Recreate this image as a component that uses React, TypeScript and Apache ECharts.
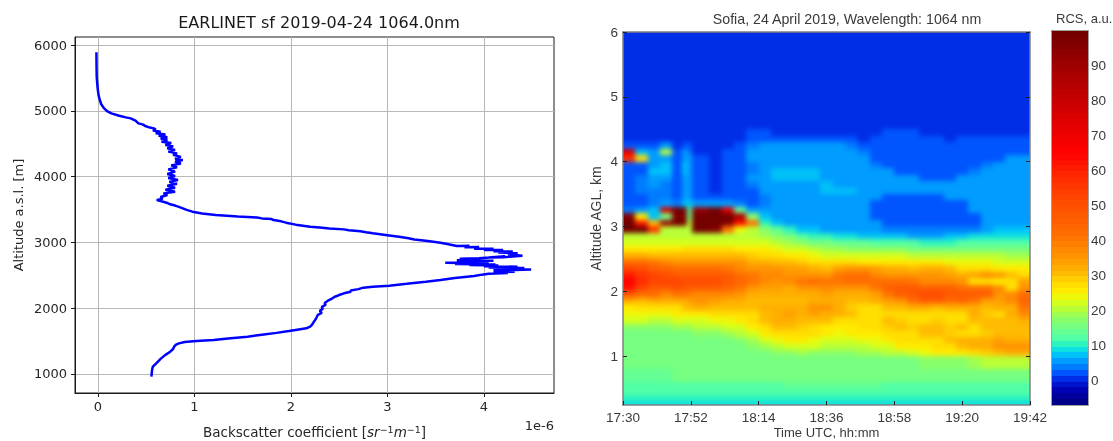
import React, { useEffect, useRef } from "react";
import * as echarts from "echarts";

// Left panel: backscatter profile (values in units of 1e-6 sr^-1 m^-1)
const altitudes = [5890,5700,5520,5400,5316,5230,5164,5100,5037,4990,4961,4926,4900,4885,4850,4809,4790,4769,4745,4733,4715,4700,4683,4660,4640,4620,4600,4580,4560,4530,4510,4480,4460,4430,4404,4380,4353,4330,4300,4270,4252,4225,4200,4170,4140,4110,4075,4040,4010,3980,3948,3920,3890,3860,3830,3800,3770,3745,3720,3690,3660,3644,3625,3600,3584,3560,3540,3518,3495,3467,3440,3416,3395,3380,3365,3355,3340,3320,3300,3270,3239,3225,3210,3198,3185,3170,3155,3138,3110,3085,3062,3045,3020,2995,2975,2945,2950,2925,2930,2905,2905,2885,2885,2865,2860,2845,2835,2820,2798,2775,2770,2790,2760,2750,2740,2730,2720,2712,2700,2692,2685,2672,2665,2655,2648,2638,2630,2620,2610,2600,2590,2575,2565,2555,2545,2535,2525,2510,2490,2460,2430,2403,2370,2342,2325,2312,2290,2270,2250,2226,2200,2170,2140,2110,2080,2050,2020,1990,1960,1930,1900,1870,1840,1795,1750,1720,1694,1670,1653,1625,1600,1567,1540,1517,1500,1485,1465,1445,1415,1380,1339,1290,1230,1170,1111,1085,1040,959];
const backscatter = [-0.015,-0.014,-0.012,-0.006,0,0.008,0.02,0.035,0.065,0.1,0.14,0.22,0.29,0.34,0.39,0.42,0.47,0.49,0.54,0.58,0.6,0.57,0.65,0.6,0.7,0.63,0.72,0.65,0.72,0.66,0.76,0.7,0.78,0.72,0.8,0.73,0.82,0.78,0.86,0.8,0.88,0.8,0.86,0.76,0.82,0.73,0.8,0.72,0.8,0.73,0.83,0.74,0.82,0.72,0.8,0.7,0.8,0.68,0.72,0.65,0.67,0.61,0.66,0.72,0.74,0.8,0.84,0.88,0.92,0.98,1.08,1.22,1.45,1.65,1.7,1.8,1.82,1.9,1.95,2.05,2.2,2.3,2.4,2.55,2.6,2.72,2.78,2.85,3.0,3.12,3.22,3.28,3.42,3.55,3.62,3.72,3.85,3.8,3.95,3.9,4.1,4.0,4.2,4.1,4.3,4.15,4.35,4.25,4.4,4.2,4.05,4.22,3.95,3.75,3.98,3.72,4.1,3.72,4.05,3.6,4.05,3.7,4.12,3.85,4.15,4.0,4.35,4.05,4.42,4.1,4.49,4.2,4.1,4.32,4.1,4.25,4.05,3.98,3.9,3.7,3.55,3.4,3.2,3.02,2.85,2.75,2.7,2.62,2.62,2.55,2.5,2.45,2.42,2.38,2.35,2.36,2.32,2.33,2.3,2.32,2.28,2.27,2.26,2.24,2.22,2.2,2.16,2.05,1.98,1.85,1.72,1.55,1.35,1.2,1.02,0.9,0.84,0.81,0.79,0.78,0.75,0.7,0.65,0.61,0.57,0.565,0.56,0.555];
const profileXTicks = [0, 1, 2, 3, 4];
const profileYTicks = [1000, 2000, 3000, 4000, 5000, 6000];

// Right panel: RCS time-height section
const timeLabels = ["17:30", "17:52", "18:14", "18:36", "18:58", "19:20", "19:42"];
const timeTicksMin = [0, 22, 44, 66, 88, 110, 132];
const altTicksKm = [1, 2, 3, 4, 5, 6];
const rcsTicks = [0, 10, 20, 30, 40, 50, 60, 70, 80, 90];
const columnEdgesMin = [0,4,8,12,16,19,20.8,22.4,28,32,36,40,44,48,52,56,60,64,68,72,76,80,84,88,92,96,100,104,108,112,116,120,124,128,132];
const rowEdgesKm = [6,5.6,5.2,4.8,4.6,4.5,4.4,4.3,4.2,4.1,4,3.9,3.8,3.7,3.6,3.5,3.4,3.3,3.2,3.1,3,2.9,2.8,2.7,2.6,2.5,2.4,2.3,2.2,2.1,2,1.9,1.8,1.7,1.6,1.5,1.4,1.3,1.2,1.1,1,0.8,0.6,0.5,0.4,0.3,0.244];
const rcsRows = [
[0,0,0,0,1,0,0,0,0,0,1,0,0,0,0,0,0,0,1,0,0,0,0,0,0,1,0,0,0,0,0,0,0,0],
[0,1,0,0,0,0,0,0,0,1,0,0,0,0,0,1,0,0,0,0,0,0,1,0,0,0,0,0,0,1,0,0,0,0],
[0,0,0,0,0,0,0,0,0,0,0,0,0,0,0,0,0,0,0,0,0,0,0,0,0,0,0,0,0,0,0,0,0,0],
[0,0,0,1,0,0,0,0,0,0,0,1,0,0,0,0,0,1,0,0,0,0,0,0,0,1,0,0,0,0,0,1,0,0],
[0,0,0,0,0,0,0,0,0,0,1,1,1,0,0,0,0,0,0,0,0,0,1,1,0,0,0,0,0,0,0,0,0,0],
[0,0,0,0,0,0,0,0,0,0,1,2,2,1,1,0,0,0,0,0,0,1,2,2,2,1,0,0,0,1,1,1,1,1],
[1,1,1,1,1,1,1,1,0,0,1,3,3,3,3,3,3,2,2,2,1,2,3,3,3,2,2,1,2,2,2,2,2,2],
[3,2,3,6,1,3,3,1,0,1,2,4,5,5,5,5,5,5,5,4,3,3,3,3,3,3,3,3,3,3,3,3,3,3],
[72,8,5,20,2,5,4,1,0,2,3,5,5,5,5,5,5,5,5,5,4,3,3,3,2,3,2,3,3,3,3,3,3,3],
[58,28,5,5,2,6,5,2,1,2,3,5,5,5,5,5,5,5,5,5,5,3,3,3,3,2,3,3,3,2,2,3,5,5],
[3,3,6,7,2,7,6,2,1,2,3,4,5,5,6,6,5,5,5,5,5,4,3,3,3,3,3,3,3,3,4,5,5,5],
[2,3,7,8,2,7,6,2,1,2,3,4,5,7,8,8,7,5,5,5,5,5,5,3,3,3,3,3,3,4,5,5,5,5],
[2,4,6,6,2,6,6,2,1,2,3,5,6,7,7,7,8,6,5,5,5,5,5,5,5,3,3,3,5,5,5,5,5,5],
[2,4,5,4,2,6,6,2,1,2,3,4,5,5,5,5,6,7,6,5,5,5,5,5,5,5,5,5,5,5,5,5,5,5],
[2,4,4,4,2,6,6,2,1,2,3,3,5,5,5,5,5,7,7,7,5,5,5,5,5,5,5,5,5,5,5,5,5,5],
[2,3,4,4,2,6,6,2,2,3,3,3,4,5,5,5,5,5,5,5,5,5,3,3,3,3,3,5,5,5,5,5,5,5],
[2,3,4,5,4,7,7,5,6,6,4,3,4,5,5,5,5,5,5,5,5,3,3,3,3,3,3,3,3,5,5,5,5,5],
[4,6,7,75,100,100,12,92,100,72,14,6,5,5,5,5,5,5,5,5,5,3,3,3,3,3,3,3,3,5,5,5,5,5],
[95,25,8,15,95,100,16,100,100,100,85,18,7,5,5,5,5,5,5,5,5,3,3,3,3,3,3,3,3,3,5,5,5,5],
[100,60,30,90,100,100,20,100,100,95,62,42,10,7,5,5,5,5,5,5,5,5,3,3,3,3,3,3,3,3,5,5,5,5],
[100,100,55,20,20,20,20,100,95,40,24,20,18,14,10,8,7,6,6,6,5,5,4,4,4,4,4,4,4,4,6,7,7,7],
[21,21,21,21,21,21,21,21,21,21,21,20,19,17,15,13,11,10,9,9,8,8,7,7,6,6,6,7,8,9,9,9,9,9],
[23,23,23,23,23,23,23,23,23,23,23,23,22,21,19,18,16,15,14,14,14,13,13,12,12,11,11,11,12,12,13,13,13,13],
[26,26,26,26,26,27,27,27,27,27,26,25,25,24,23,22,20,19,19,18,18,18,17,17,16,16,16,16,16,16,16,16,15,15],
[32,32,30,30,30,30,30,30,30,30,30,29,28,27,26,25,24,23,23,23,23,22,22,22,21,21,21,20,20,20,20,20,19,19],
[42,42,40,38,36,36,36,36,36,36,35,33,32,31,30,29,27,27,27,27,26,26,26,26,25,25,25,24,24,24,24,23,23,22],
[52,50,46,44,42,42,42,42,42,40,38,36,35,35,34,34,32,31,34,36,36,34,33,32,31,32,32,30,28,28,27,26,26,25],
[60,56,52,50,48,48,48,48,48,46,43,40,38,37,36,36,36,36,40,43,42,38,36,36,36,35,35,34,33,34,38,36,30,28],
[66,58,52,52,52,50,50,50,50,48,44,40,38,36,38,40,42,40,40,42,42,42,43,42,40,38,37,37,36,28,27,26,28,34],
[62,52,48,48,50,48,47,46,46,44,40,36,34,34,33,36,36,38,36,35,36,40,46,48,47,46,45,45,42,42,42,38,27,36],
[48,42,42,38,40,40,39,38,38,38,35,33,32,32,32,33,33,34,33,33,33,34,40,46,48,50,50,48,48,46,46,36,38,42],
[32,30,32,32,32,33,34,36,34,32,32,31,31,31,31,31,32,32,32,30,31,32,34,36,42,46,45,42,44,40,34,34,38,44],
[26,27,27,28,27,30,31,33,30,30,30,30,32,33,33,33,35,35,33,29,28,28,30,30,32,32,30,32,32,32,30,32,32,40],
[24,24,24,24,25,25,25,26,27,27,28,28,31,33,34,33,34,32,32,30,28,27,28,28,28,28,28,27,28,32,29,28,32,38],
[22,22,21,21,22,22,22,23,24,24,26,27,30,32,32,31,30,30,28,28,27,28,30,29,28,28,29,28,28,31,30,30,30,32],
[18,18,18,18,19,19,19,20,21,22,23,25,28,30,30,29,27,26,26,26,27,28,29,31,29,30,31,29,30,28,30,30,30,30],
[16,16,16,16,16,16,16,17,18,19,20,22,25,27,28,27,27,25,24,25,26,26,27,28,28,31,31,29,28,28,29,30,31,31],
[15,15,15,15,15,15,15,15,15,16,17,19,22,24,25,25,24,23,22,23,24,24,25,27,27,27,28,30,32,33,33,34,33,32],
[15,15,15,15,15,15,15,15,15,15,16,17,19,21,23,23,22,20,20,21,21,22,23,25,26,26,27,28,31,32,33,35,36,36],
[15,15,15,15,15,15,15,15,15,15,15,16,16,17,18,19,18,18,17,18,19,19,20,21,22,24,25,26,26,28,29,31,32,33],
[15,15,15,15,15,15,15,15,15,15,15,15,15,15,15,15,15,15,15,15,15,15,16,16,16,17,17,18,18,19,20,21,21,21],
[14,14,14,14,15,15,15,15,15,15,15,15,15,15,15,15,15,15,15,15,15,15,15,15,15,15,15,15,15,15,15,15,15,15],
[13,13,13,13,13,13,13,13,13,13,13,13,13,13,14,14,14,14,14,14,14,14,13,13,13,13,13,13,13,13,13,13,13,13],
[12,12,12,12,12,12,12,12,12,12,12,12,12,12,12,12,12,12,12,12,12,12,12,12,12,12,12,12,12,12,12,12,12,12],
[10,10,10,10,11,11,11,11,11,11,11,11,11,11,11,11,11,11,11,11,11,11,11,11,11,11,11,11,11,11,11,11,11,11],
[9,9,9,9,9,9,9,9,9,9,9,9,9,9,9,9,9,9,9,9,9,9,9,9,9,9,9,9,9,9,9,9,9,9],
];

// Colour scale: RCS value -> colour
const scaleValues = [-7,-3,0,2,4,6,8,10,12,15,18,20,23,25,28,30,35,40,45,50,60,65,70,80,90,100];
const scaleColors = ["#000080","#0000b0","#0020e0","#0050ff","#0080ff","#00a4ff","#00d4f4","#20f0c8","#50ffa8","#70ff88","#90ff60","#b0ff40","#e0ff10","#fff000","#ffd800","#ffc000","#ff9800","#ff7800","#ff6000","#ff5000","#ff2000","#ff0000","#f00000","#c80000","#a00000","#700000"];
const RCS_MIN = -7;
const RCS_MAX = 100;
const BANDS = 64;
const ALT_MIN = 0.244;
const ALT_MAX = 6;
const TIME_MAX = 132;
const BLEED = 10; // the blurred section is drawn past its frame so that its edges stay saturated

const hexToRgb = (h: string) => [1, 3, 5].map((i) => parseInt(h.slice(i, i + 2), 16));
function colorFor(v: number): string {
  const w = (RCS_MAX - RCS_MIN) / BANDS;
  const q = Math.min(BANDS - 1, Math.max(0, Math.floor((v - RCS_MIN) / w)));
  const c = RCS_MIN + (q + 0.5) * w;
  let i = 0;
  while (i < scaleValues.length - 2 && c > scaleValues[i + 1]) i++;
  const t = (c - scaleValues[i]) / (scaleValues[i + 1] - scaleValues[i]);
  const a = hexToRgb(scaleColors[i]);
  const b = hexToRgb(scaleColors[i + 1]);
  const m = a.map((x, k) => Math.round(x + (b[k] - x) * t));
  return `rgb(${m[0]},${m[1]},${m[2]})`;
}

const rectItem = (_p: any, api: any) => {
  const p0 = api.coord([api.value(0), api.value(2)]);
  const p1 = api.coord([api.value(1), api.value(3)]);
  const x = Math.round(p0[0]);
  const y = Math.round(p1[1]);
  return {
    type: "rect",
    shape: { x, y, width: Math.round(p1[0]) - x, height: Math.round(p0[1]) - y },
    style: { fill: colorFor(api.value(4)) },
  };
};

const heatItem = (_p: any, api: any) => {
  const t0 = api.value(0), t1 = api.value(1), h0 = api.value(2), h1 = api.value(3);
  const p0 = api.coord([t0, h0]);
  const p1 = api.coord([t1, h1]);
  const x0 = Math.round(p0[0]) - (t0 === 0 ? BLEED : 0);
  const x1 = Math.round(p1[0]) + (t1 === TIME_MAX ? BLEED : 0);
  const y0 = Math.round(p1[1]) - (h1 === ALT_MAX ? BLEED : 0);
  const y1 = Math.round(p0[1]) + (h0 === ALT_MIN ? BLEED : 0);
  return {
    type: "rect",
    shape: { x: x0, y: y0, width: x1 - x0, height: y1 - y0 },
    style: { fill: colorFor(api.value(4)) },
  };
};

const heatCells: number[][] = [];
rcsRows.forEach((row, r) =>
  row.forEach((v, c) => {
    heatCells.push([columnEdgesMin[c], columnEdgesMin[c + 1], rowEdgesKm[r + 1], rowEdgesKm[r], v]);
  })
);
const barCells: number[][] = Array.from({ length: BANDS }, (_, i) => {
  const w = (RCS_MAX - RCS_MIN) / BANDS;
  const lo = RCS_MIN + i * w;
  return [0, 1, lo, lo + w, lo + w / 2];
});

const DJ = "DejaVu Sans";
const LS = "Liberation Sans";
const MT = "#3a3a3a";
const EDGE = "#808080";

const hiddenLabels = { show: false };

export default function App() {
  const ref = useRef<HTMLDivElement>(null);
  const heatRef = useRef<HTMLDivElement>(null);
  useEffect(() => {
    document.body.style.margin = "0";
    const heat = echarts.init(heatRef.current!, null, { renderer: "svg" });
    heat.setOption({
      animation: false,
      grid: { left: BLEED, top: BLEED, width: 407, height: 373, outerBoundsMode: "none" },
      xAxis: { type: "value", min: 0, max: TIME_MAX, show: false },
      yAxis: { type: "value", min: ALT_MIN, max: ALT_MAX, show: false },
      series: [{
        type: "custom", renderItem: heatItem, silent: true, clip: false,
        encode: { x: [0, 1], y: [2, 3] }, data: heatCells,
      }],
    });
    const chart = echarts.init(ref.current!, null, { renderer: "svg" });
    chart.setOption({
      animation: false,
      backgroundColor: "transparent",
      title: [
        { text: "EARLINET sf 2019-04-24 1064.0nm", left: 314, top: 9, textAlign: "center", textStyle: { fontFamily: DJ, fontSize: 16, fontWeight: "normal", color: "#1a1a1a" } },
        { text: "Sofia, 24 April 2019, Wavelength: 1064 nm", left: 842, top: 7, textAlign: "center", textStyle: { fontFamily: LS, fontSize: 14.2, fontWeight: "normal", color: MT } },
        { text: "RCS, a.u.", left: 1051, top: 7, textStyle: { fontFamily: LS, fontSize: 13, fontWeight: "normal", color: MT } },
      ],
      grid: [
        { left: 75, top: 37, width: 479, height: 356, outerBoundsMode: "none", show: true, borderColor: "#1a1a1a", borderWidth: 1, backgroundColor: "#fff" },
        { left: 623, top: 32, width: 407, height: 373, outerBoundsMode: "none" },
        { left: 1052, top: 31, width: 36, height: 374, outerBoundsMode: "none" },
      ],
      xAxis: [
        {
          gridIndex: 0, type: "value", min: -0.237, max: 4.727,
          name: "Backscatter coefficient [{i|sr}{s|−1}{i|m}{s|−1}]",
          nameLocation: "middle", nameGap: 31,
          nameTextStyle: {
            fontFamily: DJ, fontSize: 13.5, color: "#262626",
            rich: {
              i: { fontFamily: DJ, fontSize: 13.5, fontStyle: "italic", color: "#262626" },
              s: { fontFamily: DJ, fontSize: 9.5, color: "#262626", verticalAlign: "bottom", padding: [0, 0, 6, 0] },
            },
          },
          axisLine: { lineStyle: { color: "#1a1a1a", width: 1 } },
          axisTick: { customValues: profileXTicks, length: 4, lineStyle: { color: "#1a1a1a" } },
          axisLabel: { customValues: profileXTicks, margin: 7, fontFamily: DJ, fontSize: 13, color: "#262626", formatter: (v: number) => String(v) },
          splitLine: { show: true, lineStyle: { color: "#b8b8b8", width: 1 } },
        },
        {
          gridIndex: 1, type: "value", min: 0, max: TIME_MAX,
          name: "Time UTC, hh:mm", nameLocation: "middle", nameGap: 21, nameMoveOverlap: false,
          nameTextStyle: { fontFamily: LS, fontSize: 13, color: MT },
          axisLine: { onZero: false, lineStyle: { color: EDGE, width: 1.5 } },
          axisTick: { customValues: timeTicksMin, inside: true, length: 4, lineStyle: { color: "#222" } },
          axisLabel: {
            customValues: timeTicksMin, margin: 5, fontFamily: LS, fontSize: 13.5, color: MT,
            hideOverlap: false,
            formatter: (v: number) => timeLabels[timeTicksMin.indexOf(v)],
          },
          splitLine: { show: false },
        },
        {
          gridIndex: 1, type: "value", min: 0, max: TIME_MAX, position: "top",
          axisLine: { onZero: false, lineStyle: { color: EDGE, width: 1.5 } },
          axisTick: { show: false }, axisLabel: hiddenLabels, splitLine: { show: false },
        },
        {
          gridIndex: 2, type: "value", min: 0, max: 1,
          axisLine: { onZero: false, lineStyle: { color: EDGE, width: 1.5 } },
          axisTick: { show: false }, axisLabel: hiddenLabels, splitLine: { show: false },
        },
        {
          gridIndex: 2, type: "value", min: 0, max: 1, position: "top",
          axisLine: { onZero: false, lineStyle: { color: EDGE, width: 1.5 } },
          axisTick: { show: false }, axisLabel: hiddenLabels, splitLine: { show: false },
        },
      ],
      yAxis: [
        {
          gridIndex: 0, type: "value", min: 711, max: 6122,
          name: "Altitude a.s.l. [m]", nameLocation: "middle", nameGap: 50,
          nameTextStyle: { fontFamily: DJ, fontSize: 13, color: "#262626" },
          axisLine: { onZero: false, lineStyle: { color: "#1a1a1a", width: 1 } },
          axisTick: { customValues: profileYTicks, length: 4, lineStyle: { color: "#1a1a1a" } },
          axisLabel: { customValues: profileYTicks, margin: 8, fontFamily: DJ, fontSize: 13, color: "#262626", formatter: (v: number) => String(v) },
          splitLine: { show: true, lineStyle: { color: "#b8b8b8", width: 1 } },
        },
        {
          gridIndex: 1, type: "value", min: ALT_MIN, max: ALT_MAX,
          name: "Altitude AGL, km", nameLocation: "middle", nameGap: 20,
          nameTextStyle: { fontFamily: LS, fontSize: 14, color: MT },
          axisLine: { onZero: false, lineStyle: { color: EDGE, width: 1.5 } },
          axisTick: { customValues: altTicksKm, inside: true, length: 4, lineStyle: { color: "#222" } },
          axisLabel: { customValues: altTicksKm, margin: 5, fontFamily: LS, fontSize: 13.5, color: MT, formatter: (v: number) => String(v) },
          splitLine: { show: false },
        },
        {
          gridIndex: 1, type: "value", min: ALT_MIN, max: ALT_MAX, position: "right",
          axisLine: { onZero: false, lineStyle: { color: EDGE, width: 1.5 } },
          axisTick: { customValues: altTicksKm, inside: true, length: 4, lineStyle: { color: "#222" } },
          axisLabel: hiddenLabels, splitLine: { show: false },
        },
        {
          gridIndex: 2, type: "value", min: RCS_MIN, max: RCS_MAX, position: "right",
          axisLine: { onZero: false, lineStyle: { color: EDGE, width: 1.5 } },
          axisTick: { customValues: rcsTicks, inside: true, length: 4, lineStyle: { color: "#222" } },
          axisLabel: { customValues: rcsTicks, margin: 3, fontFamily: LS, fontSize: 13.5, color: MT, formatter: (v: number) => String(v) },
          splitLine: { show: false },
        },
        {
          gridIndex: 2, type: "value", min: RCS_MIN, max: RCS_MAX, position: "left",
          axisLine: { onZero: false, lineStyle: { color: EDGE, width: 1.5 } },
          axisTick: { customValues: rcsTicks, inside: true, length: 4, lineStyle: { color: "#222" } },
          axisLabel: hiddenLabels, splitLine: { show: false },
        },
      ],
      graphic: [
        { type: "text", right: 1113 - 554, top: 419, style: { text: "1e-6", font: `13px "${DJ}"`, fill: "#262626" } },
      ],
      series: [
        {
          type: "line", xAxisIndex: 0, yAxisIndex: 0, showSymbol: false, symbol: "none",
          lineStyle: { color: "#0000ff", width: 2.5 }, z: 5,
          data: altitudes.map((a, i) => [backscatter[i], a]),
        },
        {
          type: "custom", xAxisIndex: 3, yAxisIndex: 3, renderItem: rectItem, silent: true,
          encode: { x: [0, 1], y: [2, 3] }, data: barCells, z: 1,
        },
      ],
    });
    return () => {
      chart.dispose();
      heat.dispose();
    };
  }, []);
  return (
    <div style={{ position: "relative", width: 1113, height: 441, background: "#fff", overflow: "hidden", filter: "blur(0.6px)" }}>
      <div style={{ position: "absolute", left: 623, top: 32, width: 407, height: 373, overflow: "hidden" }}>
        <div ref={heatRef} style={{ position: "absolute", left: -BLEED, top: -BLEED, width: 407 + 2 * BLEED, height: 373 + 2 * BLEED, filter: "blur(2.4px)" }} />
      </div>
      <div ref={ref} style={{ position: "absolute", left: 0, top: 0, width: 1113, height: 441 }} />
    </div>
  );
}
